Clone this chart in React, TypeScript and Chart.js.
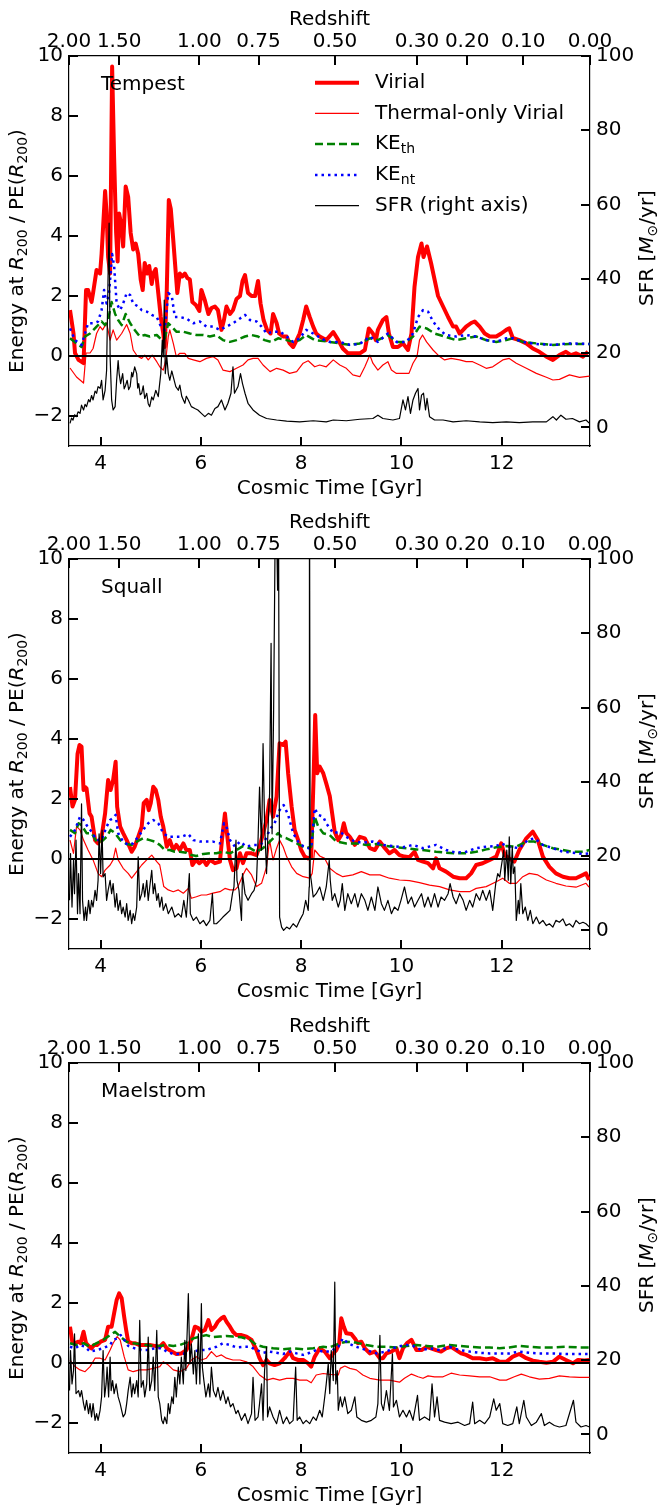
import React, { useEffect, useRef } from 'react';
import { Chart, registerables } from 'chart.js';

Chart.register(...registerables);

type P = [number, number][];

// ---------- axes ----------
const T_MIN = 3.37;
const T_MAX = 13.76;
const TIME_TICKS = [4, 6, 8, 10, 12];
const ENERGY_MIN = -3;
const ENERGY_MAX = 10;
const ENERGY_TICKS = [-2, 0, 2, 4, 6, 8, 10];
const SFR_MIN = -5;
const SFR_MAX = 100;
const SFR_TICKS = [0, 20, 40, 60, 80, 100];
const REDSHIFT_LABELS = ['2.00', '1.50', '1.00', '0.75', '0.50', '0.30', '0.20', '0.10', '0.00'];
const REDSHIFT_TIMES = [3.37, 4.37, 5.97, 7.15, 8.675, 10.31, 11.31, 12.43, 13.76];
const ZERO_LEVEL = 0;

// ---------- Tempest ----------
const TEMPEST_VIRIAL: P = [[3.39,1.53],[3.46,0.75],[3.49,0.1],[3.56,-0.13],[3.66,-0.24],[3.71,2.2],[3.75,2.2],[3.82,1.8],[3.85,2.1],[3.92,2.87],[3.99,2.75],[4.02,3.4],[4.09,5.5],[4.12,4.75],[4.15,3.3],[4.19,2.75],[4.23,9.65],[4.27,6.6],[4.31,4.1],[4.34,3.15],[4.37,4.75],[4.42,4.3],[4.45,3.65],[4.5,5.65],[4.55,5.3],[4.6,4.1],[4.65,3.55],[4.7,3.75],[4.75,3.4],[4.8,2.55],[4.84,2.2],[4.88,3.1],[4.93,2.75],[4.97,3.0],[5.02,2.4],[5.05,2.75],[5.1,2.9],[5.15,2.1],[5.2,1.3],[5.25,0.75],[5.28,0.3],[5.32,2.2],[5.36,5.2],[5.4,4.9],[5.45,3.85],[5.5,2.75],[5.53,2.1],[5.58,2.75],[5.63,2.65],[5.68,2.75],[5.73,2.6],[5.78,2.55],[5.83,1.8],[5.9,1.7],[5.97,1.5],[6.01,2.2],[6.08,1.85],[6.15,1.4],[6.21,1.6],[6.28,1.65],[6.34,1.53],[6.41,0.87],[6.46,1.2],[6.51,1.65],[6.58,1.4],[6.64,1.53],[6.71,1.9],[6.78,2.0],[6.83,2.5],[6.88,2.7],[6.94,2.1],[7.01,2.0],[7.08,2.0],[7.14,2.5],[7.19,1.75],[7.25,1.2],[7.32,0.87],[7.39,0.75],[7.44,1.4],[7.51,1.1],[7.56,0.75],[7.64,0.65],[7.71,0.65],[7.77,0.42],[7.84,0.3],[7.91,0.53],[7.97,0.75],[8.04,1.2],[8.1,1.65],[8.17,1.3],[8.24,0.98],[8.3,0.75],[8.37,0.65],[8.5,0.53],[8.64,0.8],[8.74,0.53],[8.83,0.25],[8.93,0.09],[9.03,0.09],[9.17,0.09],[9.27,0.2],[9.35,0.92],[9.43,0.75],[9.49,0.53],[9.53,0.87],[9.63,1.2],[9.7,1.3],[9.75,0.75],[9.83,0.3],[9.93,0.3],[10.03,0.42],[10.13,0.2],[10.2,0.75],[10.26,2.3],[10.33,3.3],[10.4,3.75],[10.44,3.3],[10.51,3.65],[10.59,3.1],[10.66,2.55],[10.73,2.0],[10.83,1.65],[10.93,1.3],[11.03,0.98],[11.09,0.98],[11.16,0.75],[11.23,0.87],[11.29,0.98],[11.39,1.1],[11.46,1.15],[11.56,0.98],[11.66,0.75],[11.76,0.65],[11.89,0.65],[11.99,0.75],[12.09,0.87],[12.15,0.92],[12.22,0.6],[12.35,0.53],[12.49,0.42],[12.62,0.25],[12.75,0.14],[12.89,-0.02],[13.02,-0.13],[13.15,0.03],[13.28,0.14],[13.38,0.03],[13.48,0.09],[13.62,-0.02],[13.72,0.14]];
const TEMPEST_THERMAL: P = [[3.39,-0.4],[3.52,-0.7],[3.66,-0.9],[3.71,0.1],[3.79,0.1],[3.85,0.25],[3.92,0.75],[3.99,0.98],[4.04,0.87],[4.12,1.1],[4.19,0.53],[4.25,0.87],[4.32,0.53],[4.42,0.75],[4.52,1.05],[4.59,0.75],[4.65,0.2],[4.73,0.0],[4.82,-0.08],[4.88,0.03],[4.95,-0.13],[5.03,0.03],[5.12,-0.19],[5.18,-0.36],[5.25,-0.47],[5.3,-0.13],[5.35,0.65],[5.38,0.87],[5.45,0.42],[5.51,-0.02],[5.58,0.09],[5.68,0.09],[5.75,-0.08],[5.85,-0.13],[5.98,-0.19],[6.11,-0.08],[6.24,-0.02],[6.34,-0.13],[6.44,-0.47],[6.58,-0.52],[6.71,-0.41],[6.84,-0.3],[6.94,-0.13],[7.04,-0.08],[7.14,-0.08],[7.24,-0.3],[7.38,-0.52],[7.51,-0.41],[7.64,-0.47],[7.77,-0.58],[7.91,-0.52],[8.04,-0.24],[8.14,-0.16],[8.27,-0.36],[8.37,-0.3],[8.5,-0.36],[8.64,-0.13],[8.77,-0.3],[8.9,-0.41],[9.03,-0.63],[9.17,-0.69],[9.27,-0.36],[9.37,0.03],[9.43,-0.24],[9.53,-0.47],[9.63,-0.3],[9.73,-0.19],[9.8,-0.47],[9.9,-0.58],[10.03,-0.58],[10.15,-0.58],[10.23,-0.24],[10.31,-0.02],[10.36,0.53],[10.42,0.7],[10.5,0.47],[10.63,0.2],[10.76,-0.02],[10.86,-0.13],[10.99,-0.08],[11.16,-0.13],[11.29,-0.19],[11.42,-0.19],[11.56,-0.3],[11.69,-0.41],[11.82,-0.36],[12.02,-0.13],[12.15,-0.08],[12.29,-0.24],[12.49,-0.41],[12.69,-0.58],[12.89,-0.71],[13.02,-0.8],[13.15,-0.78],[13.35,-0.63],[13.55,-0.71],[13.75,-0.67]];
const TEMPEST_KETH: P = [[3.39,0.59],[3.52,0.42],[3.62,0.3],[3.69,0.65],[3.79,0.75],[3.92,0.98],[4.02,1.15],[4.09,1.03],[4.15,1.2],[4.22,1.8],[4.29,1.4],[4.35,1.2],[4.42,1.03],[4.5,1.4],[4.59,1.09],[4.68,0.87],[4.78,0.65],[4.88,0.7],[4.98,0.65],[5.12,0.7],[5.22,0.53],[5.28,0.59],[5.35,1.09],[5.42,0.98],[5.51,0.81],[5.65,0.81],[5.78,0.75],[5.91,0.7],[6.05,0.7],[6.18,0.65],[6.31,0.7],[6.44,0.53],[6.58,0.47],[6.71,0.53],[6.88,0.65],[7.01,0.7],[7.14,0.65],[7.27,0.53],[7.41,0.47],[7.54,0.59],[7.71,0.53],[7.84,0.47],[7.97,0.53],[8.1,0.7],[8.27,0.53],[8.44,0.5],[8.57,0.47],[8.77,0.42],[8.97,0.37],[9.17,0.42],[9.37,0.59],[9.53,0.53],[9.73,0.7],[9.9,0.47],[10.1,0.47],[10.23,0.65],[10.36,0.98],[10.5,0.92],[10.66,0.75],[10.86,0.65],[11.09,0.53],[11.29,0.59],[11.49,0.65],[11.69,0.53],[11.89,0.47],[12.09,0.53],[12.22,0.59],[12.42,0.47],[12.69,0.42],[13.02,0.37],[13.35,0.4],[13.75,0.4]];
const TEMPEST_KENT: P = [[3.39,0.92],[3.49,0.53],[3.62,0.37],[3.69,0.75],[3.75,1.09],[3.85,1.09],[3.95,1.15],[4.02,1.53],[4.07,2.2],[4.12,1.75],[4.17,2.1],[4.23,3.4],[4.27,3.0],[4.32,1.75],[4.39,1.53],[4.45,1.75],[4.52,2.1],[4.59,2.03],[4.65,1.75],[4.75,1.65],[4.82,1.53],[4.92,1.48],[5.02,1.37],[5.12,1.3],[5.22,0.92],[5.28,0.87],[5.35,2.1],[5.42,2.0],[5.48,1.3],[5.58,1.3],[5.71,1.25],[5.85,1.09],[5.98,1.15],[6.11,0.98],[6.24,0.98],[6.38,0.87],[6.51,0.98],[6.64,1.09],[6.78,1.25],[6.88,1.37],[6.98,1.2],[7.11,1.15],[7.21,0.98],[7.31,0.75],[7.44,0.81],[7.58,0.81],[7.71,0.65],[7.84,0.47],[7.97,0.59],[8.1,0.87],[8.24,0.75],[8.44,0.55],[8.57,0.47],[8.77,0.47],[8.97,0.37],[9.17,0.4],[9.37,0.65],[9.53,0.47],[9.73,0.75],[9.9,0.47],[10.1,0.47],[10.23,0.75],[10.33,1.3],[10.43,1.53],[10.53,1.48],[10.63,1.15],[10.76,0.87],[10.89,0.7],[11.09,0.65],[11.29,0.7],[11.49,0.65],[11.69,0.53],[11.89,0.47],[12.09,0.59],[12.22,0.59],[12.42,0.47],[12.69,0.4],[13.02,0.37],[13.35,0.42],[13.75,0.4]];
const TEMPEST_SFR: P = [[3.39,1.1],[3.42,2.5],[3.45,2],[3.48,3.4],[3.52,2.9],[3.55,4.2],[3.59,3.8],[3.62,6],[3.66,4.7],[3.69,6.2],[3.72,5.6],[3.76,7.5],[3.79,6.9],[3.82,8.6],[3.85,7.4],[3.89,9.8],[3.92,9.2],[3.95,11],[3.99,10.5],[4.02,12.7],[4.05,7.4],[4.09,10],[4.12,15.4],[4.15,41.5],[4.17,55],[4.19,19],[4.22,7.4],[4.25,4.7],[4.29,5.6],[4.32,12.7],[4.35,18],[4.37,14.5],[4.4,11.8],[4.44,14.5],[4.47,10.4],[4.49,11],[4.53,12.7],[4.56,10.2],[4.59,11],[4.62,14.8],[4.64,13.6],[4.68,16.3],[4.72,14.5],[4.74,10.6],[4.76,11.8],[4.79,8.8],[4.82,9.2],[4.85,11.2],[4.88,7.8],[4.92,9.2],[4.95,6.4],[4.98,5.6],[5.02,8.2],[5.05,7.4],[5.1,10],[5.15,8.3],[5.2,14.5],[5.23,23.5],[5.25,19],[5.27,34.3],[5.29,14.5],[5.32,19],[5.35,14.5],[5.38,12.7],[5.42,15.2],[5.45,13.6],[5.5,11],[5.55,10],[5.58,11.4],[5.62,8.3],[5.68,6.5],[5.71,8.4],[5.75,7.4],[5.81,5.6],[5.88,5.1],[5.94,4.7],[6.01,3.8],[6.08,2.9],[6.15,3.8],[6.21,3.3],[6.28,5.1],[6.34,5.6],[6.41,7.4],[6.48,4.7],[6.54,6.5],[6.6,9.2],[6.64,16.3],[6.67,9.2],[6.74,11],[6.79,14.5],[6.83,11.8],[6.88,9.2],[6.94,6.5],[7.04,4.7],[7.17,3.3],[7.31,2.4],[7.51,2],[7.71,1.7],[7.97,1.5],[8.24,1.8],[8.5,1.5],[8.64,2],[8.9,1.8],[9.17,2.2],[9.43,2.4],[9.53,3.3],[9.63,2.4],[9.83,2],[9.96,2.4],[10.03,7.4],[10.08,4.7],[10.13,8.3],[10.18,3.8],[10.23,7.4],[10.28,9.2],[10.33,10.5],[10.36,4.7],[10.4,8.7],[10.44,9.2],[10.48,4.7],[10.51,7.8],[10.56,2.9],[10.66,2],[10.83,2],[11.03,1.5],[11.29,1.8],[11.56,1.5],[11.82,1.3],[12.09,1.5],[12.35,1.3],[12.62,1.5],[12.89,1.5],[13.02,2.9],[13.09,2],[13.18,3.3],[13.28,2.2],[13.41,2.4],[13.55,1.5],[13.68,2],[13.75,1.1]];

// ---------- Squall ----------
const SQUALL_VIRIAL: P = [[3.39,2.4],[3.44,1.75],[3.49,1.97],[3.54,3.5],[3.58,3.8],[3.62,3.75],[3.66,2.3],[3.69,2.4],[3.72,2.35],[3.78,1.52],[3.82,1.41],[3.89,0.63],[3.95,0.52],[4.02,0.74],[4.09,1.52],[4.15,2.63],[4.2,2.3],[4.25,2.63],[4.3,3.24],[4.33,1.74],[4.39,1.08],[4.45,0.86],[4.52,0.63],[4.62,0.24],[4.68,0.41],[4.75,0.74],[4.82,1.08],[4.86,1.86],[4.92,1.97],[4.96,1.63],[5.0,1.86],[5.05,2.41],[5.1,2.3],[5.15,1.97],[5.2,1.41],[5.25,1.08],[5.32,0.41],[5.38,0.63],[5.45,0.3],[5.51,0.47],[5.58,0.3],[5.65,0.52],[5.71,0.3],[5.78,0.3],[5.83,-0.2],[5.9,-0.03],[5.97,-0.14],[6.05,-0.03],[6.11,-0.2],[6.18,-0.03],[6.28,-0.14],[6.38,-0.09],[6.42,0.63],[6.48,1.52],[6.52,0.86],[6.58,-0.03],[6.64,-0.37],[6.71,-0.31],[6.78,0.19],[6.84,-0.14],[6.91,0.19],[7.01,0.19],[7.11,0.13],[7.17,0.41],[7.24,0.86],[7.31,1.3],[7.37,1.97],[7.44,1.41],[7.51,2.08],[7.57,3.86],[7.64,3.8],[7.69,3.91],[7.74,2.86],[7.81,1.74],[7.87,0.97],[7.94,0.63],[8.0,0.3],[8.07,0.08],[8.14,0.02],[8.2,0.08],[8.25,2.86],[8.28,4.8],[8.32,2.86],[8.37,3.08],[8.44,2.86],[8.5,2.52],[8.57,2.1],[8.62,1.5],[8.67,0.9],[8.74,0.63],[8.8,0.8],[8.85,1.19],[8.9,0.86],[8.97,0.74],[9.07,0.47],[9.17,0.74],[9.27,0.69],[9.37,0.36],[9.47,0.3],[9.57,0.58],[9.67,0.36],[9.76,0.19],[9.86,0.3],[9.96,0.13],[10.06,0.08],[10.16,0.06],[10.26,0.24],[10.33,-0.03],[10.43,-0.09],[10.53,-0.14],[10.63,-0.31],[10.69,0.02],[10.76,-0.31],[10.89,-0.42],[11.03,-0.59],[11.16,-0.64],[11.29,-0.64],[11.39,-0.48],[11.49,-0.2],[11.62,-0.14],[11.76,-0.03],[11.89,0.08],[11.99,0.52],[12.06,0.13],[12.15,0.02],[12.25,-0.09],[12.35,0.3],[12.49,0.69],[12.62,0.91],[12.72,0.63],[12.82,0.08],[12.95,-0.26],[13.08,-0.48],[13.22,-0.59],[13.35,-0.64],[13.48,-0.64],[13.62,-0.53],[13.68,-0.48],[13.74,-0.7]];
const SQUALL_THERMAL: P = [[3.39,0.63],[3.46,0.19],[3.52,1.08],[3.59,0.97],[3.66,0.63],[3.75,0.3],[3.85,-0.03],[3.95,-0.48],[4.02,-0.59],[4.09,-0.37],[4.19,-0.2],[4.25,-0.03],[4.3,0.36],[4.35,-0.03],[4.45,-0.31],[4.55,-0.48],[4.62,-0.64],[4.72,-0.42],[4.82,-0.2],[4.92,-0.03],[5.02,0.13],[5.12,-0.09],[5.18,-0.2],[5.26,-0.92],[5.35,-1.03],[5.45,-1.09],[5.55,-1.03],[5.65,-1.14],[5.75,-0.98],[5.81,-1.31],[5.91,-1.26],[6.01,-1.2],[6.11,-1.2],[6.24,-1.14],[6.38,-1.09],[6.48,-0.98],[6.58,-1.03],[6.68,-1.03],[6.74,-0.92],[6.84,-0.53],[6.91,-0.31],[7.01,-0.53],[7.11,-0.92],[7.21,-0.81],[7.31,-0.26],[7.37,0.63],[7.44,-0.03],[7.51,0.36],[7.57,0.63],[7.64,0.41],[7.71,0.08],[7.81,-0.26],[7.91,-0.48],[8.04,-0.59],[8.17,-0.64],[8.22,-0.48],[8.27,0.3],[8.37,0.1],[8.47,0.02],[8.57,-0.31],[8.7,-0.48],[8.83,-0.59],[9.03,-0.53],[9.2,-0.42],[9.37,-0.53],[9.57,-0.53],[9.76,-0.64],[9.96,-0.7],[10.16,-0.72],[10.36,-0.79],[10.56,-0.87],[10.76,-0.92],[10.96,-1.03],[11.16,-1.09],[11.36,-1.09],[11.49,-0.98],[11.69,-0.92],[11.89,-0.76],[12.02,-0.64],[12.15,-0.81],[12.29,-0.81],[12.42,-0.59],[12.55,-0.48],[12.72,-0.53],[12.89,-0.7],[13.08,-0.81],[13.28,-0.9],[13.48,-0.94],[13.68,-0.81],[13.74,-0.94]];
const SQUALL_KETH: P = [[3.39,0.97],[3.49,0.86],[3.56,1.19],[3.62,1.13],[3.72,0.86],[3.82,0.86],[3.92,0.58],[4.02,0.58],[4.12,0.74],[4.2,0.97],[4.29,0.86],[4.39,0.63],[4.52,0.5],[4.62,0.47],[4.72,0.58],[4.85,0.69],[4.98,0.63],[5.08,0.58],[5.18,0.47],[5.28,0.3],[5.38,0.3],[5.48,0.24],[5.58,0.24],[5.71,0.21],[5.81,0.13],[5.91,0.1],[6.05,0.17],[6.18,0.19],[6.31,0.19],[6.44,0.24],[6.58,0.19],[6.71,0.3],[6.84,0.43],[6.98,0.36],[7.11,0.24],[7.24,0.36],[7.34,0.52],[7.44,0.69],[7.54,0.86],[7.61,0.74],[7.71,0.69],[7.84,0.58],[7.97,0.47],[8.1,0.36],[8.2,0.41],[8.27,1.41],[8.34,1.08],[8.44,0.86],[8.57,0.8],[8.7,0.58],[8.9,0.52],[9.1,0.52],[9.3,0.47],[9.5,0.5],[9.7,0.43],[9.9,0.39],[10.1,0.36],[10.3,0.32],[10.5,0.28],[10.69,0.24],[10.89,0.21],[11.09,0.19],[11.29,0.19],[11.49,0.24],[11.69,0.32],[11.89,0.39],[12.09,0.43],[12.29,0.41],[12.49,0.58],[12.65,0.58],[12.82,0.47],[13.02,0.36],[13.22,0.3],[13.42,0.24],[13.62,0.24],[13.75,0.3]];
const SQUALL_KENT: P = [[3.39,0.74],[3.49,0.97],[3.59,1.41],[3.66,1.3],[3.72,1.13],[3.82,0.91],[3.92,0.63],[4.02,0.63],[4.12,1.08],[4.19,1.3],[4.25,1.36],[4.3,1.47],[4.35,0.86],[4.45,0.58],[4.55,0.47],[4.65,0.52],[4.75,0.74],[4.85,0.97],[4.95,1.19],[5.05,1.3],[5.15,1.19],[5.25,0.86],[5.35,0.74],[5.48,0.74],[5.61,0.74],[5.75,0.83],[5.85,0.63],[5.98,0.58],[6.11,0.58],[6.24,0.58],[6.38,0.52],[6.46,1.19],[6.51,1.08],[6.58,0.63],[6.68,0.41],[6.78,0.58],[6.91,0.41],[7.04,0.47],[7.17,0.47],[7.27,0.58],[7.37,0.97],[7.47,1.19],[7.57,1.63],[7.65,1.8],[7.74,1.47],[7.84,0.86],[7.94,0.58],[8.04,0.43],[8.14,0.36],[8.2,0.36],[8.27,1.69],[8.34,1.47],[8.44,1.41],[8.5,1.19],[8.64,0.86],[8.77,0.91],[8.9,0.74],[9.07,0.58],[9.23,0.54],[9.43,0.58],[9.63,0.47],[9.83,0.43],[10.03,0.39],[10.23,0.47],[10.43,0.36],[10.69,0.47],[10.89,0.3],[11.09,0.21],[11.29,0.24],[11.49,0.36],[11.69,0.41],[11.89,0.43],[11.99,0.52],[12.15,0.41],[12.35,0.36],[12.52,0.63],[12.65,0.69],[12.82,0.47],[13.02,0.36],[13.22,0.24],[13.42,0.21],[13.62,0.17],[13.75,0.19]];
const SQUALL_SFR: P = [[3.38,8.1],[3.4,20.7],[3.43,6.3],[3.46,18.9],[3.48,9.9],[3.51,24.3],[3.54,4.5],[3.56,15.3],[3.59,4.5],[3.62,34.1],[3.64,8.1],[3.67,2.7],[3.7,6.3],[3.72,2.7],[3.76,8.1],[3.79,4.5],[3.82,8.1],[3.85,6.3],[3.89,10.8],[3.92,8.1],[3.95,13.5],[3.97,26],[4.0,15.3],[4.03,27],[4.05,14.4],[4.09,15.3],[4.12,8.1],[4.15,10.8],[4.19,13.5],[4.22,9.9],[4.25,12.6],[4.29,6.3],[4.32,9.9],[4.35,5.4],[4.39,8.1],[4.42,4.5],[4.45,6.3],[4.49,3.6],[4.52,7.2],[4.55,2.7],[4.59,5.4],[4.62,1.8],[4.65,4.5],[4.68,2.7],[4.72,6.3],[4.75,19.8],[4.78,8.1],[4.82,9.9],[4.85,12.6],[4.88,9],[4.92,13.5],[4.95,8.1],[4.98,11.7],[5.02,16.2],[5.05,9.9],[5.08,12.6],[5.12,8.1],[5.15,9.9],[5.18,6.3],[5.22,9],[5.25,5.4],[5.3,7.2],[5.35,4.5],[5.42,6.3],[5.48,3.6],[5.55,4.5],[5.61,3.6],[5.66,8.1],[5.71,3.6],[5.77,15.3],[5.79,4.5],[5.85,2.7],[5.91,3.6],[5.98,1.8],[6.05,2.7],[6.11,1.3],[6.18,2.7],[6.23,9.9],[6.26,1.8],[6.31,1.8],[6.38,2.7],[6.44,3.6],[6.51,4.5],[6.58,5.4],[6.63,9.9],[6.66,11.7],[6.7,24.3],[6.72,13.5],[6.76,10.8],[6.81,2.7],[6.83,15.3],[6.88,9.9],[6.94,8.1],[7.01,9.9],[7.06,10.8],[7.11,13.5],[7.14,24.3],[7.17,38.6],[7.21,21.6],[7.24,50.3],[7.27,28.8],[7.31,15.3],[7.35,31.4],[7.37,36.8],[7.4,77.3],[7.42,26],[7.45,58.4],[7.48,105],[7.51,108],[7.53,91.6],[7.55,105],[7.57,3.6],[7.61,0.9],[7.65,0],[7.71,0.9],[7.77,0.4],[7.84,1.8],[7.91,0.9],[7.97,2.7],[8.04,4.5],[8.09,8.1],[8.14,5.4],[8.16,11.7],[8.165,130],[8.18,15.3],[8.2,13.5],[8.24,9],[8.3,9.9],[8.37,11.7],[8.44,8.1],[8.5,11.7],[8.56,18.9],[8.58,13.5],[8.62,8.1],[8.67,9.9],[8.74,6.3],[8.78,8.1],[8.82,12.6],[8.87,5.4],[8.93,9.9],[9.0,7.2],[9.07,9.9],[9.13,6.3],[9.2,9.9],[9.27,8.1],[9.33,5.4],[9.4,9],[9.47,5.4],[9.53,11.7],[9.6,7.2],[9.66,5.4],[9.73,8.1],[9.8,4.5],[9.86,6.3],[9.93,5.4],[9.99,8.1],[10.06,11.7],[10.13,7.2],[10.2,9],[10.26,6.3],[10.33,8.1],[10.4,9.9],[10.46,6.3],[10.53,9],[10.59,6.3],[10.66,9.9],[10.73,6.3],[10.79,9],[10.86,8.1],[10.93,9.9],[10.97,12.6],[11.03,9],[11.09,7.2],[11.16,9.9],[11.23,8.1],[11.29,5.4],[11.36,8.1],[11.42,6.3],[11.49,9.9],[11.56,8.1],[11.62,10.8],[11.69,8.1],[11.76,10.8],[11.82,5.4],[11.88,12.6],[11.92,15.3],[11.96,14.4],[12.01,18.9],[12.04,21.6],[12.06,13.5],[12.1,21.6],[12.13,13.5],[12.15,25.2],[12.18,12.6],[12.21,22.5],[12.23,15.3],[12.26,17.1],[12.29,2.7],[12.33,8.1],[12.35,4.5],[12.38,12.6],[12.42,4.5],[12.47,6.3],[12.52,2.7],[12.57,5.4],[12.62,1.8],[12.69,3.6],[12.75,1.8],[12.82,2.7],[12.89,1.3],[12.95,1.8],[13.02,0.9],[13.08,2.7],[13.15,2.2],[13.22,3.1],[13.28,1.3],[13.35,1.8],[13.42,0.9],[13.48,2.7],[13.55,1.8],[13.62,2.2],[13.68,1.8],[13.75,0.9]];

// ---------- Maelstrom ----------
const MAELSTROM_VIRIAL: P = [[3.39,1.21],[3.44,0.66],[3.49,0.66],[3.56,0.71],[3.6,0.66],[3.66,1.04],[3.71,0.66],[3.78,0.54],[3.82,0.49],[3.87,0.6],[3.93,0.6],[4.0,0.71],[4.09,0.77],[4.15,1.21],[4.22,1.21],[4.27,1.66],[4.32,2.1],[4.37,2.32],[4.42,2.16],[4.47,1.54],[4.51,1.1],[4.55,0.71],[4.62,0.66],[4.68,0.66],[4.78,0.6],[4.88,0.6],[4.98,0.6],[5.08,0.57],[5.18,0.54],[5.25,0.66],[5.32,0.49],[5.42,0.38],[5.51,0.3],[5.61,0.32],[5.71,0.43],[5.81,0.77],[5.88,1.21],[5.95,1.16],[6.01,1.04],[6.08,1.1],[6.15,1.43],[6.21,1.1],[6.28,1.21],[6.34,1.38],[6.41,1.49],[6.46,1.54],[6.51,1.38],[6.58,1.21],[6.64,1.04],[6.71,0.93],[6.81,0.93],[6.91,0.88],[7.01,0.77],[7.11,0.43],[7.17,0.16],[7.24,-0.07],[7.31,0.1],[7.37,-0.01],[7.47,-0.07],[7.57,-0.01],[7.67,0.16],[7.77,0.38],[7.84,0.16],[7.94,0.1],[8.04,0.1],[8.14,-0.01],[8.2,-0.12],[8.27,0.21],[8.37,0.49],[8.47,0.38],[8.57,0.16],[8.64,0.32],[8.7,0.43],[8.76,0.66],[8.8,1.49],[8.85,1.21],[8.9,0.99],[9.0,0.97],[9.07,0.82],[9.13,0.66],[9.2,0.71],[9.27,0.49],[9.37,0.32],[9.47,0.38],[9.57,0.16],[9.63,0.16],[9.7,0.32],[9.8,0.38],[9.9,0.49],[9.96,0.16],[10.03,0.49],[10.11,0.66],[10.2,0.77],[10.3,0.43],[10.4,0.43],[10.5,0.54],[10.59,0.49],[10.69,0.43],[10.79,0.38],[10.89,0.49],[10.99,0.54],[11.09,0.43],[11.19,0.32],[11.29,0.27],[11.42,0.16],[11.56,0.16],[11.69,0.12],[11.82,0.16],[11.96,0.04],[12.09,0.04],[12.22,0.21],[12.35,0.3],[12.49,0.16],[12.62,0.08],[12.75,0.04],[12.89,0.01],[13.02,0.04],[13.15,0.21],[13.28,0.1],[13.42,-0.01],[13.52,0.1],[13.65,0.08],[13.75,0.1]];
const MAELSTROM_THERMAL: P = [[3.39,0.1],[3.49,-0.12],[3.59,-0.23],[3.69,-0.29],[3.79,-0.12],[3.89,0.16],[3.99,0.16],[4.09,0.1],[4.19,0.43],[4.25,0.66],[4.33,0.88],[4.39,0.77],[4.47,0.21],[4.55,-0.23],[4.65,-0.29],[4.78,-0.23],[4.92,-0.23],[5.05,-0.18],[5.18,-0.12],[5.25,0.04],[5.35,-0.07],[5.45,-0.23],[5.58,-0.29],[5.71,-0.18],[5.81,0.1],[5.91,0.21],[6.01,0.1],[6.11,0.16],[6.21,0.38],[6.31,0.21],[6.41,0.27],[6.51,0.16],[6.64,0.1],[6.78,0.1],[6.91,0.04],[7.04,-0.12],[7.17,-0.4],[7.31,-0.57],[7.44,-0.51],[7.57,-0.57],[7.71,-0.51],[7.84,-0.51],[7.97,-0.57],[8.11,-0.57],[8.2,-0.66],[8.3,-0.4],[8.44,-0.35],[8.57,-0.38],[8.74,-0.4],[8.78,-0.18],[8.87,-0.1],[8.97,-0.18],[9.1,-0.23],[9.23,-0.4],[9.37,-0.51],[9.57,-0.57],[9.76,-0.57],[9.96,-0.64],[10.06,-0.51],[10.2,-0.37],[10.33,-0.46],[10.43,-0.51],[10.53,-0.43],[10.66,-0.46],[10.83,-0.46],[10.99,-0.34],[11.16,-0.4],[11.36,-0.43],[11.56,-0.46],[11.76,-0.46],[11.96,-0.57],[12.09,-0.57],[12.25,-0.46],[12.39,-0.37],[12.55,-0.46],[12.75,-0.54],[12.95,-0.51],[13.15,-0.43],[13.35,-0.46],[13.55,-0.48],[13.75,-0.48]];
const MAELSTROM_KETH: P = [[3.39,0.66],[3.52,0.6],[3.66,0.66],[3.79,0.54],[3.92,0.66],[4.05,0.77],[4.19,0.93],[4.29,1.04],[4.39,0.88],[4.52,0.71],[4.65,0.66],[4.78,0.63],[4.92,0.6],[5.05,0.57],[5.18,0.57],[5.32,0.6],[5.45,0.57],[5.58,0.6],[5.71,0.68],[5.85,0.82],[5.98,0.88],[6.11,0.93],[6.24,0.86],[6.38,0.88],[6.51,0.9],[6.64,0.88],[6.81,0.86],[6.98,0.77],[7.11,0.6],[7.24,0.54],[7.44,0.49],[7.64,0.46],[7.84,0.49],[8.04,0.46],[8.24,0.49],[8.44,0.54],[8.57,0.52],[8.77,0.66],[8.9,0.71],[9.1,0.68],[9.3,0.6],[9.5,0.54],[9.7,0.54],[9.9,0.52],[10.1,0.57],[10.3,0.6],[10.5,0.57],[10.69,0.54],[10.96,0.6],[11.16,0.57],[11.36,0.54],[11.56,0.52],[11.76,0.52],[11.96,0.49],[12.15,0.52],[12.35,0.57],[12.55,0.54],[12.75,0.52],[13.02,0.52],[13.28,0.54],[13.55,0.52],[13.75,0.52]];
const MAELSTROM_KENT: P = [[3.39,0.54],[3.49,0.49],[3.59,0.6],[3.69,0.54],[3.79,0.38],[3.92,0.43],[4.05,0.49],[4.19,0.6],[4.25,0.77],[4.33,0.82],[4.4,0.93],[4.47,0.77],[4.55,0.57],[4.68,0.49],[4.82,0.43],[4.95,0.43],[5.08,0.49],[5.22,0.49],[5.32,0.38],[5.45,0.3],[5.58,0.3],[5.71,0.32],[5.85,0.38],[5.98,0.43],[6.11,0.43],[6.21,0.49],[6.31,0.54],[6.44,0.66],[6.58,0.6],[6.71,0.52],[6.84,0.54],[6.98,0.54],[7.11,0.43],[7.24,0.34],[7.37,0.38],[7.51,0.34],[7.64,0.3],[7.77,0.38],[7.91,0.32],[8.04,0.27],[8.17,0.34],[8.3,0.43],[8.44,0.38],[8.57,0.38],[8.74,0.54],[8.83,0.82],[8.93,0.66],[9.1,0.54],[9.3,0.43],[9.5,0.32],[9.7,0.38],[9.9,0.54],[10.1,0.6],[10.23,0.57],[10.4,0.43],[10.56,0.49],[10.76,0.43],[10.96,0.54],[11.16,0.43],[11.36,0.38],[11.56,0.34],[11.76,0.32],[11.96,0.32],[12.15,0.32],[12.35,0.38],[12.55,0.34],[12.75,0.32],[13.02,0.32],[13.28,0.3],[13.55,0.3],[13.75,0.3]];
const MAELSTROM_SFR: P = [[3.38,11.8],[3.4,22.6],[3.43,13.6],[3.46,17.2],[3.48,27.1],[3.51,11],[3.56,11.8],[3.59,10.1],[3.62,11.8],[3.66,8.3],[3.69,6.5],[3.72,9.2],[3.76,5.6],[3.79,8.3],[3.82,4.7],[3.85,8.3],[3.89,3.8],[3.92,5.6],[3.95,3.8],[3.99,6.5],[4.02,10.1],[4.05,22.6],[4.08,10.1],[4.11,13.6],[4.13,18.1],[4.16,10.1],[4.19,20.8],[4.21,11.8],[4.24,14.5],[4.27,11],[4.31,13.6],[4.35,10.1],[4.39,8.3],[4.42,6.5],[4.45,4.7],[4.49,5.6],[4.52,8.3],[4.55,11.8],[4.59,15.4],[4.62,10.1],[4.65,13.6],[4.68,11],[4.72,14.5],[4.75,10.1],[4.78,30.7],[4.81,12.7],[4.85,14.5],[4.88,10.1],[4.92,13.6],[4.95,26.2],[4.98,11.8],[5.02,14.5],[5.05,20.8],[5.08,11.8],[5.12,28],[5.15,10.1],[5.18,8.3],[5.22,3.8],[5.25,2.9],[5.28,4.7],[5.32,2.9],[5.35,8.3],[5.38,5.6],[5.42,10.1],[5.45,8.3],[5.48,15.4],[5.51,10.1],[5.55,18.1],[5.58,13.6],[5.61,20.8],[5.65,13.6],[5.68,25.3],[5.7,17.2],[5.73,28.9],[5.75,37.9],[5.78,19],[5.81,24.4],[5.85,16.3],[5.88,22.6],[5.91,13.6],[5.95,27.1],[5.98,13.6],[6.01,35.2],[6.03,18.1],[6.06,14.5],[6.1,10.1],[6.15,13.6],[6.18,10.1],[6.21,18.1],[6.25,11.8],[6.3,10.1],[6.34,12.7],[6.39,9.2],[6.44,11.8],[6.5,8.3],[6.54,10.1],[6.59,7.4],[6.64,8.3],[6.7,5.6],[6.74,6.5],[6.81,3.8],[6.88,5.6],[6.94,2.9],[7.01,5.6],[7.04,15.4],[7.08,3.8],[7.14,4.7],[7.17,8.3],[7.21,13.6],[7.24,3.8],[7.27,17.2],[7.31,23.5],[7.33,4.7],[7.37,7.4],[7.44,4.7],[7.51,2.9],[7.57,6.5],[7.64,2.9],[7.71,4.7],[7.77,2.9],[7.84,3.8],[7.89,18.1],[7.92,3.8],[7.97,4.7],[8.04,2.9],[8.1,3.8],[8.17,2.9],[8.24,4.7],[8.3,3.8],[8.37,6.5],[8.42,4.7],[8.47,10.1],[8.5,13.6],[8.54,19],[8.57,11],[8.6,22.6],[8.64,14.5],[8.67,41],[8.69,13.6],[8.72,17.2],[8.74,6.5],[8.78,10.1],[8.82,7.4],[8.87,10.1],[8.93,5.6],[9.0,6.5],[9.07,10.1],[9.11,4.7],[9.2,3.8],[9.3,3.3],[9.4,3.8],[9.49,4.7],[9.53,8.3],[9.57,26.7],[9.6,8.3],[9.64,6.5],[9.7,11.8],[9.76,6.5],[9.82,21.7],[9.84,7.4],[9.9,9.2],[9.96,4.7],[10.03,6.5],[10.1,4.7],[10.16,6.5],[10.23,3.8],[10.32,10.5],[10.36,3.8],[10.46,4.7],[10.56,3.8],[10.61,13.6],[10.66,4.7],[10.71,10.1],[10.76,3.8],[10.86,3.3],[10.99,2.9],[11.13,3.3],[11.26,2.4],[11.36,2.9],[11.42,8.7],[11.46,2.9],[11.56,3.8],[11.66,2.9],[11.76,4.7],[11.84,9.6],[11.89,6.5],[11.96,8.3],[12.02,2.9],[12.12,2.4],[12.22,2.9],[12.3,7.4],[12.35,2.9],[12.44,9.2],[12.49,4.7],[12.59,2.4],[12.69,3.3],[12.79,5.6],[12.85,2.4],[12.95,3.3],[13.05,2.4],[13.15,2],[13.28,2.4],[13.43,9.2],[13.48,3.3],[13.58,2],[13.68,2.4],[13.75,2]];

// ---------- styling / layout (not data) ----------
const FONT = '"DejaVu Sans", sans-serif';
const PLOT_LEFT = 69;
const PLOT_RIGHT_MARGIN = 70;
const PLOT_TOP = 56;
const PLOT_BOTTOM = 446;

type Seg = { t: string; size?: number; italic?: boolean; dy?: number };
const SUB = (t: string): Seg => ({ t, size: 14, dy: 5 });

const LEFT_TITLE: Seg[] = [{ t: 'Energy at ' }, { t: 'R', italic: true }, SUB('200'), { t: ' / PE(' }, { t: 'R', italic: true }, SUB('200'), { t: ')' }];
const RIGHT_TITLE: Seg[] = [{ t: 'SFR [' }, { t: 'M', italic: true }, SUB('\u2299'), { t: '/yr]' }];

const LEGEND_ROWS: { key: string; segs: Seg[] }[] = [
  { key: 'virial', segs: [{ t: 'Virial' }] },
  { key: 'thermal', segs: [{ t: 'Thermal-only Virial' }] },
  { key: 'keth', segs: [{ t: 'KE' }, SUB('th')] },
  { key: 'kent', segs: [{ t: 'KE' }, SUB('nt')] },
  { key: 'sfr', segs: [{ t: 'SFR (right axis)' }] },
];

function fontOf(s: Seg) {
  return `${s.italic ? 'italic ' : ''}${s.size ?? 20}px ${FONT}`;
}
function measure(ctx: CanvasRenderingContext2D, segs: Seg[]) {
  let w = 0;
  for (const s of segs) { ctx.font = fontOf(s); w += ctx.measureText(s.t).width; }
  return w;
}
function drawSegs(ctx: CanvasRenderingContext2D, segs: Seg[], x: number, y: number, align: 'left' | 'center') {
  let cx = align === 'center' ? x - measure(ctx, segs) / 2 : x;
  ctx.textAlign = 'left';
  ctx.textBaseline = 'middle';
  for (const s of segs) {
    ctx.font = fontOf(s);
    ctx.fillText(s.t, cx, y + (s.dy ?? 0));
    cx += ctx.measureText(s.t).width;
  }
}

type PanelCfg = { name: string; virial: P; thermal: P; keth: P; kent: P; sfr: P; legend: boolean; height: number };

const PANELS: PanelCfg[] = [
  { name: 'Tempest', virial: TEMPEST_VIRIAL, thermal: TEMPEST_THERMAL, keth: TEMPEST_KETH, kent: TEMPEST_KENT, sfr: TEMPEST_SFR, legend: true, height: 503 },
  { name: 'Squall', virial: SQUALL_VIRIAL, thermal: SQUALL_THERMAL, keth: SQUALL_KETH, kent: SQUALL_KENT, sfr: SQUALL_SFR, legend: false, height: 504 },
  { name: 'Maelstrom', virial: MAELSTROM_VIRIAL, thermal: MAELSTROM_THERMAL, keth: MAELSTROM_KETH, kent: MAELSTROM_KENT, sfr: MAELSTROM_SFR, legend: false, height: 498 },
];

const toXY = (p: P) => p.map(([x, y]) => ({ x, y }));
const minus = (v: number) => (v < 0 ? '\u2212' + Math.abs(v) : String(v));

function makeDecor(cfg: PanelCfg) {
  return {
    id: 'decor',
    afterDraw(chart: any) {
      const ctx: CanvasRenderingContext2D = chart.ctx;
      const { left, right, top, bottom } = chart.chartArea;
      const s = chart.scales;
      ctx.save();
      // inward ticks
      ctx.strokeStyle = '#000';
      ctx.lineWidth = 2;
      const L = 9;
      ctx.beginPath();
      for (const t of s.x.ticks) { const p = Math.round(s.x.getPixelForValue(t.value)); ctx.moveTo(p, bottom); ctx.lineTo(p, bottom - L); }
      for (const t of s.x2.ticks) { const p = Math.round(s.x2.getPixelForValue(t.value)); ctx.moveTo(p, top); ctx.lineTo(p, top + L); }
      for (const t of s.y.ticks) { const p = Math.round(s.y.getPixelForValue(t.value)); ctx.moveTo(left, p); ctx.lineTo(left + L, p); }
      for (const t of s.y2.ticks) { const p = Math.round(s.y2.getPixelForValue(t.value)); ctx.moveTo(right, p); ctx.lineTo(right - L, p); }
      ctx.stroke();

      ctx.fillStyle = '#000';
      // panel name
      drawSegs(ctx, [{ t: cfg.name }], left + 32, top + 29, 'left');
      // axis titles
      const cxm = (left + right) / 2;
      const cym = (top + bottom) / 2;
      drawSegs(ctx, [{ t: 'Redshift' }], cxm, top - 36, 'center');
      drawSegs(ctx, [{ t: 'Cosmic Time [Gyr]' }], cxm, bottom + 43, 'center');
      ctx.save();
      ctx.translate(18, cym);
      ctx.rotate(-Math.PI / 2);
      drawSegs(ctx, LEFT_TITLE, 0, 0, 'center');
      ctx.restore();
      ctx.save();
      ctx.translate(right + 58, cym - 3);
      ctx.rotate(-Math.PI / 2);
      drawSegs(ctx, RIGHT_TITLE, 0, 0, 'center');
      ctx.restore();

      // legend
      if (cfg.legend) {
        const rowY = [26.7, 57.3, 88, 119, 149.7];
        LEGEND_ROWS.forEach((row, i) => {
          const ds = chart.data.datasets.find((d: any) => d.key === row.key);
          const y = top + rowY[i];
          ctx.save();
          ctx.strokeStyle = ds.borderColor;
          ctx.lineWidth = ds.borderWidth;
          ctx.setLineDash(ds.borderDash || []);
          ctx.lineCap = 'butt';
          ctx.beginPath();
          ctx.moveTo(315, y);
          ctx.lineTo(359, y);
          ctx.stroke();
          ctx.restore();
          ctx.fillStyle = '#000';
          drawSegs(ctx, row.segs, 375, y, 'left');
        });
      }
      ctx.restore();
    },
  };
}

function Panel({ cfg }: { cfg: PanelCfg }) {
  const ref = useRef<HTMLCanvasElement>(null);
  useEffect(() => {
    const H = cfg.height;
    const tickFont = { size: 20, family: FONT };
    const common = {
      grid: { display: false, drawTicks: false },
      border: { display: true, color: '#000', width: 1.2 },
    };
    const chart = new Chart(ref.current as HTMLCanvasElement, {
      type: 'line',
      data: {
        datasets: [
          { key: 'sfr', label: 'SFR (right axis)', data: toXY(cfg.sfr), xAxisID: 'x', yAxisID: 'y2', borderColor: '#000000', borderWidth: 1.2, pointRadius: 0, order: 0, borderJoinStyle: 'round' },
          { key: 'zero', label: 'zero', data: [{ x: T_MIN, y: ZERO_LEVEL }, { x: T_MAX, y: ZERO_LEVEL }], xAxisID: 'x', yAxisID: 'y', borderColor: '#000000', borderWidth: 2, pointRadius: 0, order: 1 },
          { key: 'kent', label: 'KEnt', data: toXY(cfg.kent), xAxisID: 'x', yAxisID: 'y', borderColor: '#0000ff', borderWidth: 2.5, borderDash: [2.5, 4], pointRadius: 0, order: 2, borderJoinStyle: 'round' },
          { key: 'keth', label: 'KEth', data: toXY(cfg.keth), xAxisID: 'x', yAxisID: 'y', borderColor: '#008000', borderWidth: 2.5, borderDash: [8, 4], pointRadius: 0, order: 3, borderJoinStyle: 'round' },
          { key: 'thermal', label: 'Thermal-only Virial', data: toXY(cfg.thermal), xAxisID: 'x', yAxisID: 'y', borderColor: '#ff0000', borderWidth: 1.2, pointRadius: 0, order: 4, borderJoinStyle: 'round' },
          { key: 'virial', label: 'Virial', data: toXY(cfg.virial), xAxisID: 'x', yAxisID: 'y', borderColor: '#ff0000', borderWidth: 4, pointRadius: 0, order: 5, borderJoinStyle: 'round' },
        ] as any,
      },
      options: {
        responsive: false,
        animation: false,
        devicePixelRatio: 1,
        events: [],
        layout: { padding: 0 },
        plugins: { legend: { display: false }, tooltip: { enabled: false }, title: { display: false } },
        scales: {
          x: {
            type: 'linear', position: 'bottom', min: T_MIN, max: T_MAX, ...common,
            afterBuildTicks: (sc: any) => { sc.ticks = TIME_TICKS.map((v) => ({ value: v })); },
            afterFit: (sc: any) => { sc.height = H - PLOT_BOTTOM; },
            ticks: { font: tickFont, color: '#000', padding: 6, autoSkip: false, maxRotation: 0, minRotation: 0, callback: (v: any) => String(v) },
          },
          x2: {
            type: 'linear', position: 'top', min: T_MIN, max: T_MAX, ...common,
            afterBuildTicks: (sc: any) => { sc.ticks = REDSHIFT_TIMES.map((v) => ({ value: v })); },
            afterFit: (sc: any) => { sc.height = PLOT_TOP; },
            ticks: { font: tickFont, color: '#000', padding: 2, autoSkip: false, maxRotation: 0, minRotation: 0, callback: (_v: any, i: number) => REDSHIFT_LABELS[i] },
          },
          y: {
            type: 'linear', position: 'left', min: ENERGY_MIN, max: ENERGY_MAX, ...common,
            afterBuildTicks: (sc: any) => { sc.ticks = ENERGY_TICKS.map((v) => ({ value: v })); },
            afterFit: (sc: any) => { sc.width = PLOT_LEFT; },
            ticks: { font: tickFont, color: '#000', padding: 6, autoSkip: false, callback: (v: any) => minus(Number(v)) },
          },
          y2: {
            type: 'linear', position: 'right', min: SFR_MIN, max: SFR_MAX, ...common,
            afterBuildTicks: (sc: any) => { sc.ticks = SFR_TICKS.map((v) => ({ value: v })); },
            afterFit: (sc: any) => { sc.width = PLOT_RIGHT_MARGIN; },
            ticks: { font: tickFont, color: '#000', padding: 6, autoSkip: false, callback: (v: any) => String(v) },
          },
        },
      } as any,
      plugins: [makeDecor(cfg)],
    });
    return () => chart.destroy();
  }, [cfg]);
  return <canvas ref={ref} width={660} height={cfg.height} style={{ display: 'block', width: 660, height: cfg.height }} />;
}

export default function App() {
  return (
    <div style={{ position: 'absolute', left: 0, top: 0, width: 660, background: '#fff' }}>
      {PANELS.map((p) => (
        <Panel key={p.name} cfg={p} />
      ))}
    </div>
  );
}
